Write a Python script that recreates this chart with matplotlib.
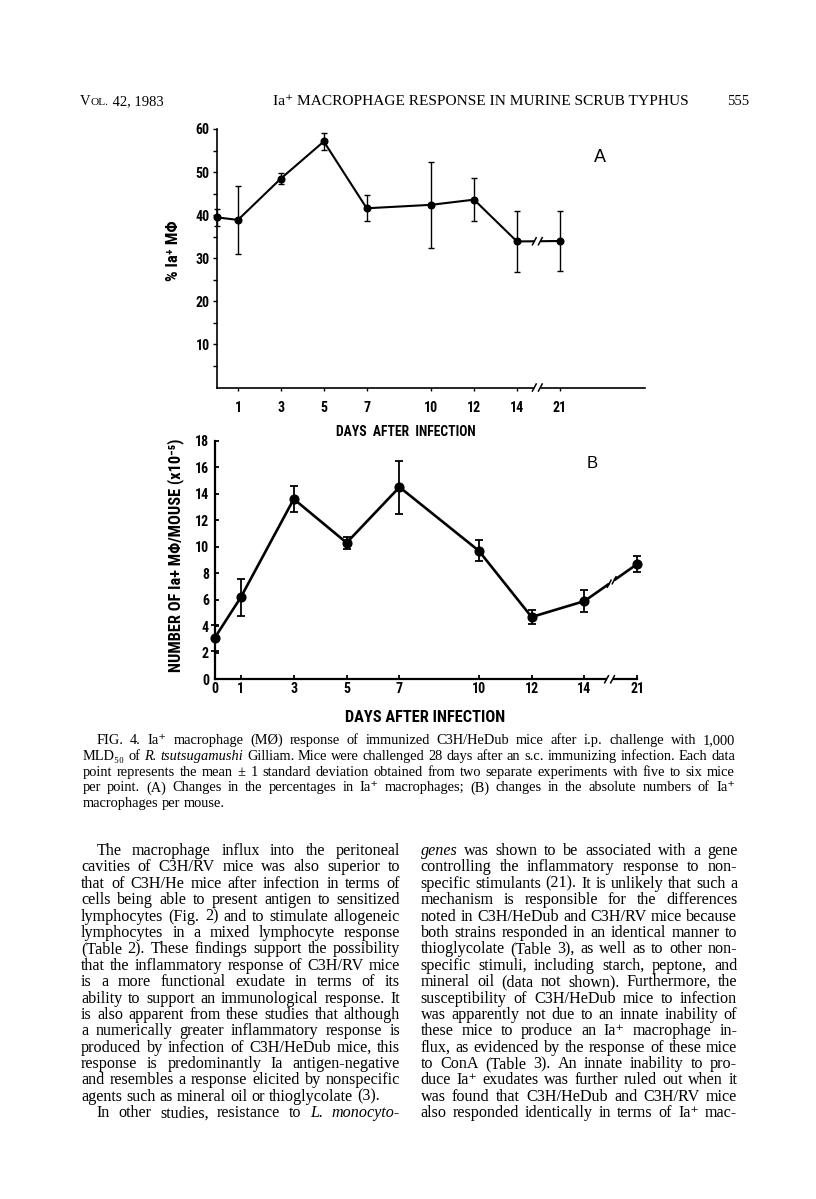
import matplotlib
matplotlib.use('Agg')
import matplotlib.pyplot as plt
from matplotlib import font_manager
from matplotlib.lines import Line2D
from matplotlib.transforms import IdentityTransform
import numpy as np

# ---------------- data ----------------
a_days = [0, 1, 3, 5, 7, 10, 12, 14, 21]
a_pct_mean = [39.5, 38.9, 48.5, 57.1, 41.6, 42.4, 43.6, 33.9, 34.0]
a_pct_sd = [2.0, 7.9, 1.3, 2.0, 3.0, 10.0, 5.0, 7.0, 7.0]

b_days = [0, 1, 3, 5, 7, 10, 12, 14, 21]
b_num_mean = [3.1, 6.2, 13.6, 10.3, 14.5, 9.7, 4.7, 5.9, 8.7]
b_num_sd = [1.0, 1.4, 1.0, 0.45, 2.0, 0.8, 0.55, 0.8, 0.6]

a_tick_days = [1, 3, 5, 7, 10, 12, 14, 21]
b_tick_days = [0, 1, 3, 5, 7, 10, 12, 14, 21]
a_yticks = [10, 20, 30, 40, 50, 60]
a_yminor = [5, 15, 25, 35, 45, 55]
b_yticks = [0, 2, 4, 6, 8, 10, 12, 14, 16, 18]

a_ylabel = "% Ia\u207a M\u03a6"
b_ylabel = "NUMBER OF Ia+ M\u03a6/MOUSE (x10\u207b\u2075)"
a_xlabel = "DAYS  AFTER  INFECTION"
b_xlabel = "DAYS AFTER INFECTION"

header_left = ("V", "OL.", " 42, 1983")
header_title = "Ia\u207a MACROPHAGE RESPONSE IN MURINE SCRUB TYPHUS"
header_page = "555"

caption_lines = [
    "FIG. 4. Ia\u207a macrophage (M\u00d8) response of immunized C3H/HeDub mice after i.p. challenge with 1,000",
    "MLD\u2085\u2080 of *R.* *tsutsugamushi* Gilliam. Mice were challenged 28 days after an s.c. immunizing infection. Each data",
    "point represents the mean \u00b1 1 standard deviation obtained from two separate experiments with five to six mice",
    "per point. (A) Changes in the percentages in Ia\u207a macrophages; (B) changes in the absolute numbers of Ia\u207a",
    "macrophages per mouse.",
]
left_col_lines = [
    "The macrophage influx into the peritoneal",
    "cavities of C3H/RV mice was also superior to",
    "that of C3H/He mice after infection in terms of",
    "cells being able to present antigen to sensitized",
    "lymphocytes (Fig. 2) and to stimulate allogeneic",
    "lymphocytes in a mixed lymphocyte response",
    "(Table 2). These findings support the possibility",
    "that the inflammatory response of C3H/RV mice",
    "is a more functional exudate in terms of its",
    "ability to support an immunological response. It",
    "is also apparent from these studies that although",
    "a numerically greater inflammatory response is",
    "produced by infection of C3H/HeDub mice, this",
    "response is predominantly Ia antigen-negative",
    "and resembles a response elicited by nonspecific",
    "agents such as mineral oil or thioglycolate (3).",
    "In other studies, resistance to *L.* *monocyto-*",
]
right_col_lines = [
    "*genes* was shown to be associated with a gene",
    "controlling the inflammatory response to non-",
    "specific stimulants (21). It is unlikely that such a",
    "mechanism is responsible for the differences",
    "noted in C3H/HeDub and C3H/RV mice because",
    "both strains responded in an identical manner to",
    "thioglycolate (Table 3), as well as to other non-",
    "specific stimuli, including starch, peptone, and",
    "mineral oil (data not shown). Furthermore, the",
    "susceptibility of C3H/HeDub mice to infection",
    "was apparently not due to an innate inability of",
    "these mice to produce an Ia\u207a macrophage in-",
    "flux, as evidenced by the response of these mice",
    "to ConA (Table 3). An innate inability to pro-",
    "duce Ia\u207a exudates was further ruled out when it",
    "was found that C3H/HeDub and C3H/RV mice",
    "also responded identically in terms of Ia\u207a mac-",
]

# ---------------- fonts ----------------
W, H, DPI = 816, 1199, 100


def pick_condensed():
    best = None
    best_score = -1
    for f in font_manager.fontManager.ttflist:
        key = (f.name + ' ' + f.fname).lower()
        if 'mono' in key or 'italic' in key or 'oblique' in key or f.style != 'normal':
            continue
        if 'serif' in key and 'sans' not in key:
            continue
        narrow = ('narrow' in key or 'condensed' in key or
                  f.stretch in ('condensed', 'semi-condensed', 'extra-condensed'))
        if not narrow:
            continue
        w = f.weight if isinstance(f.weight, int) else {'bold': 700, 'normal': 400}.get(f.weight, 400)
        score = 0
        if w >= 600:
            score += 10
        if 'liberation sans narrow' in key:
            score += 5
        elif 'roboto' in key:
            score += 4
        elif 'dejavu' in key:
            score += 2
        if score > best_score:
            best, best_score = f, score
    return best


cf = pick_condensed()
if cf is not None:
    COND = [cf.name, 'DejaVu Sans']
    COND_STRETCH = cf.stretch if cf.stretch in ('condensed', 'semi-condensed', 'extra-condensed') else 'normal'
    if 'dejavu' in cf.name.lower():
        COND_STRETCH = 'condensed'
else:
    COND = ['Roboto', 'DejaVu Sans']
    COND_STRETCH = 'normal'

SANS = ['Liberation Sans', 'DejaVu Sans']
SERIF = ['Liberation Serif', 'DejaVu Serif']

plt.rcParams['font.family'] = COND
plt.rcParams['font.weight'] = 'bold'
plt.rcParams['font.stretch'] = COND_STRETCH

fig = plt.figure(figsize=(W / DPI, H / DPI), dpi=DPI)
fig.patch.set_facecolor('white')
renderer = fig.canvas.get_renderer()


def fx(px):
    return px / W


def fy(py):
    return 1 - py / H


def day_pos(d):
    # broken axis: days after 14 are drawn right after the break
    return d if d <= 14 else 16


def cond_width(s, size):
    t = fig.text(0, 0, s, fontsize=size, family=COND, fontweight='bold', fontstretch=COND_STRETCH)
    w = t.get_window_extent(renderer).width
    t.remove()
    return w


def fitted_cond(s, size, target):
    w = cond_width(s, size)
    return min(size, size * target / w)


TICK_SIZE = 10

# ---------------- panel A ----------------
axA = fig.add_axes([fx(216.5), fy(387.5), (645 - 216.5) / W, (387.5 - 129) / H])
axA.set_xlim(0, (645 - 216.5) / 21.46)
axA.set_ylim(0, 60)
for s in ('top', 'right'):
    axA.spines[s].set_visible(False)
for s in ('left', 'bottom'):
    axA.spines[s].set_linewidth(1.2)
xa = [day_pos(d) for d in a_days]
axA.errorbar(xa, a_pct_mean, yerr=a_pct_sd, fmt='-o', color='black', lw=1.5,
             ms=4.8, capsize=2.5, capthick=1.0, elinewidth=1.0, clip_on=False, zorder=3)
axA.set_xticks([day_pos(d) for d in a_tick_days])
axA.set_xticklabels([str(d) for d in a_tick_days])
axA.set_yticks(a_yticks)
axA.set_yticks(a_yminor, minor=True)
axA.tick_params(axis='y', which='both', direction='out', length=3, width=1, pad=2,
                labelsize=TICK_SIZE)
axA.tick_params(axis='x', direction='out', length=2.5, width=1, pad=7, labelsize=TICK_SIZE)
fig.text(fx(406), fy(432), a_xlabel, ha='center', va='center',
         fontsize=fitted_cond(a_xlabel, 11, 140), fontweight='bold')
fig.text(fx(174), fy(251), a_ylabel, ha='center', va='center', rotation=90,
         fontsize=fitted_cond(a_ylabel, 12, 68), fontweight='bold')
fig.text(fx(600), fy(158), "A", ha='center', va='center', fontsize=13, family=SANS,
         fontweight='normal', fontstretch='normal')

# ---------------- panel B ----------------
axB = fig.add_axes([fx(214.5), fy(679.3), (637.3 - 214.5) / W, (679.3 - 440.7) / H])
axB.set_xlim(0, 16)
axB.set_ylim(0, 18)
for s in ('top', 'right'):
    axB.spines[s].set_visible(False)
for s in ('left', 'bottom'):
    axB.spines[s].set_linewidth(1.6)
xb = [day_pos(d) for d in b_days]
axB.errorbar(xb, b_num_mean, yerr=b_num_sd, fmt='-o', color='black', lw=1.9,
             ms=6.3, capsize=3, capthick=1.3, elinewidth=1.3, clip_on=False, zorder=3)
axB.set_xticks([day_pos(d) for d in b_tick_days])
axB.set_xticklabels([str(d) for d in b_tick_days])
axB.set_yticks(b_yticks)
axB.tick_params(axis='y', direction='in', length=3, width=1.3, pad=4, labelsize=TICK_SIZE)
axB.tick_params(axis='x', direction='in', length=3, width=1.3, pad=2, labelsize=TICK_SIZE)
fig.text(fx(425), fy(717), b_xlabel, ha='center', va='center',
         fontsize=fitted_cond(b_xlabel, 13, 160), fontweight='bold')
fig.text(fx(175.5), fy(555.5), b_ylabel, ha='center', va='center', rotation=90,
         fontsize=fitted_cond(b_ylabel, 12.5, 234), fontweight='bold')
fig.text(fx(592), fy(463), "B", ha='center', va='center', fontsize=12, family=SANS,
         fontweight='normal', fontstretch='normal')


# ---------------- break marks ----------------
def draw_break(ax, p0, p1, xbreak, lw, gap=6.0, slen=8.0, ang=62):
    P0 = ax.transData.transform(p0)
    P1 = ax.transData.transform(p1)
    Xb = ax.transData.transform((xbreak, 0))[0]
    t = (Xb - P0[0]) / (P1[0] - P0[0])
    C = P0 + t * (P1 - P0)
    d = (P1 - P0) / np.hypot(*(P1 - P0))
    A_ = C - d * gap / 2
    B_ = C + d * gap / 2
    fig.add_artist(Line2D([A_[0], B_[0]], [A_[1], B_[1]], color='white', lw=lw + 2.5,
                          solid_capstyle='butt', transform=IdentityTransform(), zorder=10))
    u = np.array([np.cos(np.radians(ang)), np.sin(np.radians(ang))])
    for Q in (A_, B_):
        fig.add_artist(Line2D([Q[0] - u[0] * slen / 2, Q[0] + u[0] * slen / 2],
                              [Q[1] - u[1] * slen / 2, Q[1] + u[1] * slen / 2],
                              color='black', lw=1.1, transform=IdentityTransform(), zorder=11))


BREAK_AT = 14.95
draw_break(axA, (14, 0), (axA.get_xlim()[1], 0), BREAK_AT, 1.2)
draw_break(axA, (xa[-2], a_pct_mean[-2]), (xa[-1], a_pct_mean[-1]), BREAK_AT, 1.5)
draw_break(axB, (14, 0), (16, 0), BREAK_AT, 1.6)
draw_break(axB, (xb[-2], b_num_mean[-2]), (xb[-1], b_num_mean[-1]), BREAK_AT + 0.08, 1.9)


# ---------------- text blocks ----------------
def word_style(w):
    if len(w) > 1 and w.startswith('*') and w.endswith('*'):
        return w[1:-1], 'italic'
    return w, 'normal'


def text_width(s, size, style='normal'):
    t = fig.text(0, 0, s, fontsize=size, family=SERIF, style=style, fontweight='normal',
                 fontstretch='normal')
    w = t.get_window_extent(renderer).width
    t.remove()
    return w


def fit_size(lines, x0, x1, base=10.0):
    ratios = []
    for indent, just, s in lines:
        if not just:
            continue
        items = [word_style(w) for w in s.split()]
        nat = sum(text_width(w, base, st) for w, st in items)
        nat += 0.25 * base * DPI / 72 * (len(items) - 1)
        ratios.append((x1 - x0 - indent) / nat)
    return base * min(ratios)


def draw_block(lines, x0, x1, base0, dy, size):
    sp = 0.25 * size * DPI / 72
    for i, (indent, just, s) in enumerate(lines):
        items = [word_style(w) for w in s.split()]
        widths = [text_width(w, size, st) for w, st in items]
        start = x0 + indent
        if just and len(items) > 1:
            gap = (x1 - start - sum(widths)) / (len(items) - 1)
        else:
            gap = sp
        x = start
        y = base0 + i * dy
        for (w, st), wd in zip(items, widths):
            fig.text(fx(x), fy(y), w, fontsize=size, family=SERIF, style=st,
                     fontweight='normal', fontstretch='normal', ha='left', va='baseline')
            x += wd + gap


cap = [(13.5 if i == 0 else 0, i < 4, s) for i, s in enumerate(caption_lines)]
cap_size = fit_size(cap, 82.7, 735)
draw_block(cap, 82.7, 735, 744, 15.8, cap_size)

left = [(15.5 if i in (0, 16) else 0, i != 15, s) for i, s in enumerate(left_col_lines)]
right = [(0, True, s) for s in right_col_lines]
body_size = min(fit_size(left, 81, 400), fit_size(right, 420.7, 737.3))
draw_block(left, 81, 400, 855, 16.39, body_size)
draw_block(right, 420.7, 737.3, 855, 16.39, body_size)

# ---------------- running head ----------------
hb = 105
hs = 10.5
x = 80
for part, sz in zip(header_left, (hs, hs * 0.78, hs)):
    fig.text(fx(x), fy(hb), part, fontsize=sz, family=SERIF, fontweight='normal',
             fontstretch='normal', ha='left', va='baseline')
    x += text_width(part.replace(' ', '\u00a0'), sz)
tw = text_width(header_title, 10)
fig.text(fx(273), fy(hb), header_title, fontsize=10 * 416 / tw, family=SERIF,
         fontweight='normal', fontstretch='normal', ha='left', va='baseline')
fig.text(fx(749), fy(hb), header_page, fontsize=hs, family=SERIF, fontweight='normal',
         fontstretch='normal', ha='right', va='baseline')

fig.savefig('out.png', dpi=DPI, facecolor='white')
